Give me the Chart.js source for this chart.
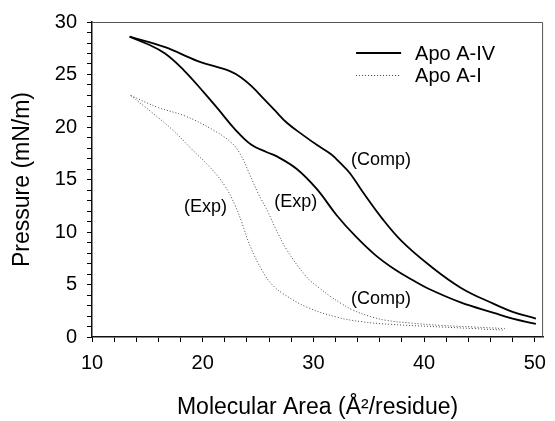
<!DOCTYPE html>
<html>
<head>
<meta charset="utf-8">
<script src="https://cdn.jsdelivr.net/npm/chart.js@4"></script>
<style>
  html, body { margin: 0; padding: 0; background: #fff; }
  #wrap { width: 555px; height: 421px; }
</style>
</head>
<body>
<div id="wrap"><canvas id="isotherm" width="555" height="421"></canvas></div>
<script>
// Apo A-IV, compression (upper solid)
const apoA4CompArea     = [13.4, 16.6, 19.5, 22.5, 23.5, 24.5, 25.5, 26.5, 27.6, 29.1, 30.3, 31.6, 32.4, 33.3, 34.4, 36.2, 38.0, 40.4, 43.3, 46.3, 48.0, 50.1];
const apoA4CompPressure = [28.6, 27.6, 26.3, 25.3, 24.7, 23.8, 22.7, 21.6, 20.4, 19.2, 18.3, 17.4, 16.6, 15.6, 13.9, 11.3, 9.1, 6.9, 4.7, 3.15, 2.4, 1.75];
// Apo A-IV, expansion (lower solid)
const apoA4ExpArea     = [13.4, 15.0, 16.6, 18.3, 20.1, 21.4, 22.9, 24.4, 25.8, 26.7, 28.5, 30.3, 32.1, 33.8, 35.6, 37.4, 39.0, 40.4, 43.3, 46.3, 48.0, 50.1];
const apoA4ExpPressure = [28.6, 27.9, 27.0, 25.4, 23.3, 21.7, 19.8, 18.3, 17.6, 17.2, 16.0, 14.1, 11.6, 9.6, 7.8, 6.4, 5.4, 4.6, 3.3, 2.3, 1.75, 1.25];
// Apo A-I, compression (right dotted)
const apoA1CompArea     = [13.5, 16.0, 18.4, 20.8, 22.6, 23.4, 24.2, 25.0, 25.9, 26.6, 27.6, 29.4, 30.5, 31.5, 32.5, 33.5, 35.0, 36.5, 38.6, 41.6, 44.5, 47.3];
const apoA1CompPressure = [23.0, 21.85, 21.05, 19.8, 18.5, 17.4, 15.6, 13.7, 11.9, 10.3, 8.3, 5.7, 4.7, 3.9, 3.2, 2.6, 2.0, 1.6, 1.35, 1.1, 0.95, 0.8];
// Apo A-I, expansion (left dotted)
const apoA1ExpArea     = [13.5, 15.45, 17.2, 19.0, 20.8, 22.0, 22.9, 23.5, 24.35, 25.5, 26.3, 27.3, 29.4, 32.1, 34.4, 37.1, 41.6, 44.5, 47.3];
const apoA1ExpPressure = [23.0, 21.35, 19.8, 17.9, 16.0, 14.4, 12.6, 11.0, 8.5, 6.1, 4.95, 4.1, 2.85, 1.9, 1.45, 1.2, 0.95, 0.8, 0.65];

const seriesNames = ['Apo A-IV', 'Apo A-I'];
const xTickLabels = [10, 20, 30, 40, 50];
const yTickLabels = [0, 5, 10, 15, 20, 25, 30];

// curve notes, placed in data units
const noteText = ['(Comp)', '(Exp)', '(Exp)', '(Comp)'];
const noteArea = [36.1, 20.25, 28.4, 36.1];
const notePressure = [16.9, 12.4, 12.9, 3.6];

const FONT = "'Liberation Sans', Arial, Helvetica, sans-serif";

function pts(xs, ys) {
  return xs.map((x, i) => ({ x: x, y: ys[i] }));
}

const solid = { borderColor: '#000', borderWidth: 1.8, pointRadius: 0, tension: 0.4, fill: false };
const dotted = { borderColor: '#444', borderWidth: 1, borderDash: [1, 2], pointRadius: 0, tension: 0.4, fill: false };

// top/right frame, legend and curve notes
const extras = {
  id: 'extras',
  afterDraw(chart) {
    const ctx = chart.ctx;
    const a = chart.chartArea;
    const xs = chart.scales.x, ys = chart.scales.y;
    ctx.save();
    ctx.strokeStyle = '#555';
    ctx.lineWidth = 1;
    ctx.setLineDash([]);
    ctx.beginPath();
    ctx.moveTo(a.left, a.top + 0.5);
    ctx.lineTo(a.right - 0.5, a.top + 0.5);
    ctx.lineTo(a.right - 0.5, a.bottom);
    ctx.stroke();

    // legend
    ctx.font = '20px ' + FONT;
    ctx.fillStyle = '#000';
    ctx.textBaseline = 'middle';
    ctx.textAlign = 'left';
    [0, 2].forEach((di, k) => {
      const ds = chart.data.datasets[di];
      const y = a.top + 31 + k * 22.5;
      ctx.beginPath();
      ctx.strokeStyle = ds.borderColor;
      ctx.lineWidth = ds.borderWidth;
      ctx.setLineDash(ds.borderDash || []);
      ctx.moveTo(a.right - 187, y);
      ctx.lineTo(a.right - 142, y);
      ctx.stroke();
      ctx.setLineDash([]);
      ctx.fillText(ds.label, a.right - 128, y + 1);
    });

    // notes
    ctx.font = '18px ' + FONT;
    ctx.textAlign = 'center';
    noteText.forEach((t, i) => {
      ctx.fillText(t, xs.getPixelForValue(noteArea[i]), ys.getPixelForValue(notePressure[i]));
    });
    ctx.restore();
  }
};

new Chart(document.getElementById('isotherm'), {
  type: 'line',
  data: {
    datasets: [
      Object.assign({ label: seriesNames[0], data: pts(apoA4CompArea, apoA4CompPressure) }, solid),
      Object.assign({ label: seriesNames[0], data: pts(apoA4ExpArea, apoA4ExpPressure) }, solid),
      Object.assign({ label: seriesNames[1], data: pts(apoA1CompArea, apoA1CompPressure) }, dotted),
      Object.assign({ label: seriesNames[1], data: pts(apoA1ExpArea, apoA1ExpPressure) }, dotted)
    ]
  },
  options: {
    responsive: false,
    animation: false,
    layout: { padding: { top: 18, right: 5, left: 0, bottom: 0 } },
    plugins: { legend: { display: false }, tooltip: { enabled: false } },
    scales: {
      x: {
        type: 'linear',
        min: 10,
        max: 50.75,
        afterFit(s) { s.height = 84; },
        grid: { display: true, drawOnChartArea: false, drawTicks: true, tickLength: 5, color: '#000', lineWidth: 1 },
        border: { display: true, color: '#111', width: 1.5 },
        ticks: {
          stepSize: 2,
          includeBounds: false,
          autoSkip: false,
          maxRotation: 0,
          padding: 9,
          color: '#000',
          font: { family: FONT, size: 20 },
          callback: v => xTickLabels.includes(v) ? String(v) : ''
        },
        title: {
          display: true,
          text: 'Molecular Area (Å²/residue)',
          color: '#000',
          font: { family: FONT, size: 23 },
          padding: { top: 0, bottom: 0 }
        }
      },
      y: {
        type: 'linear',
        min: 0,
        max: 30,
        afterFit(s) { s.width = 92; },
        grid: { display: true, drawOnChartArea: false, drawTicks: true, tickLength: 5, color: '#000', lineWidth: 1 },
        border: { display: true, color: '#111', width: 1.5 },
        ticks: {
          stepSize: 1,
          autoSkip: false,
          padding: 10,
          color: '#000',
          font: { family: FONT, size: 20 },
          callback: v => yTickLabels.includes(v) ? String(v) : ''
        },
        title: {
          display: true,
          text: 'Pressure (mN/m)',
          color: '#000',
          font: { family: FONT, size: 23 },
          padding: { top: 9, bottom: 0 }
        }
      }
    }
  },
  plugins: [extras]
});
</script>
</body>
</html>
